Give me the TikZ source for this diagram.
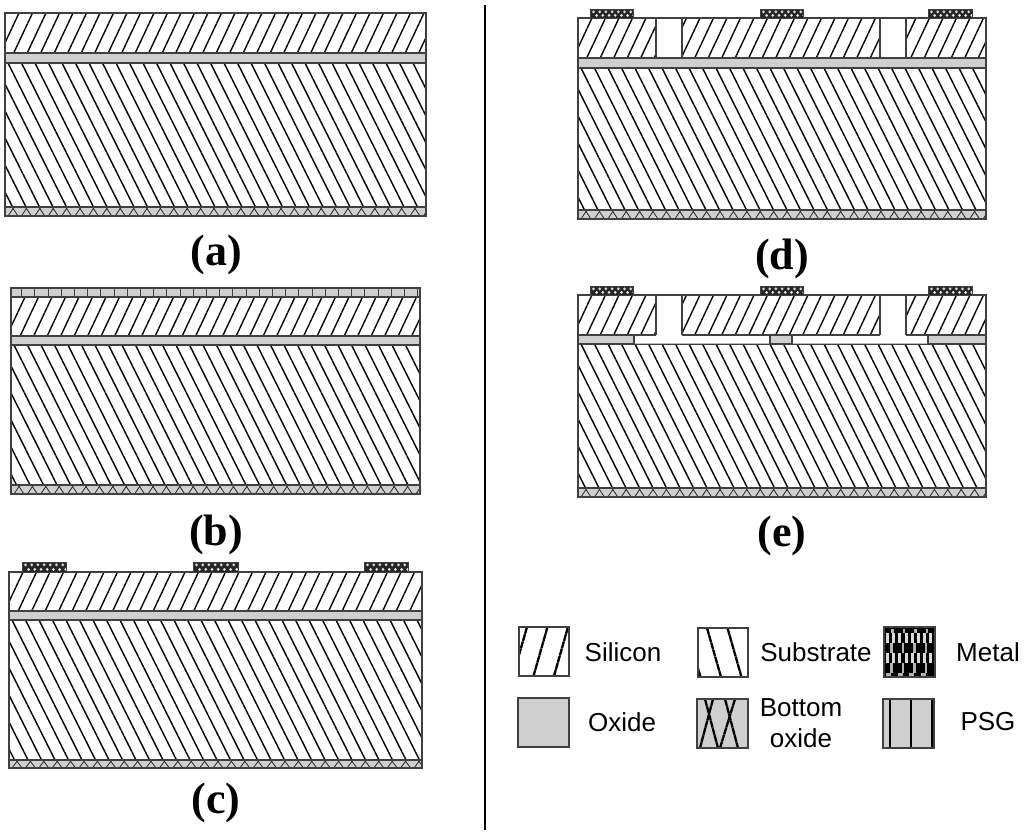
\documentclass[tikz,border=0pt]{standalone}
\usepackage{fontspec}
\setmainfont{Liberation Serif}
\setsansfont{Liberation Sans}
\usepackage{tikz}
\definecolor{oxgray}{HTML}{CFCFCF}
\definecolor{edgegray}{HTML}{404040}

% silicon hatch: x0,y0,x1,y1,phase
\newcommand{\hatchsi}[5]{%
  \begin{scope}
    \clip (#1,#2) rectangle (#3,#4);
    \foreach \k in {-2,...,34} \draw[hatchline] ({#1+#5+\k*13.5},#2) -- ++({-0.47*(#4-#2)},{#4-#2});
  \end{scope}}
% substrate hatch: x0,y0,x1,y1,phase
\newcommand{\hatchsub}[5]{%
  \begin{scope}
    \clip (#1,#2) rectangle (#3,#4);
    \foreach \k in {-8,...,34} \draw[hatchline] ({#1+#5+\k*13.5},#2) -- ++({0.5*(#4-#2)},{#4-#2});
  \end{scope}}
% whole stack: x0,x1,y silicon,y oxide,y substrate,y bottom,y end
\newcommand{\wafer}[7]{%
  \hatchsi{#1}{#3}{#2}{#4}{14}
  \hatchsub{#1}{#5}{#2}{#6}{3}
  \fill[oxgray] (#1,#4) rectangle (#2,#5);
  \fill[oxgray] (#1,#6) rectangle (#2,#7);
  \begin{scope}
    \clip (#1,#6) rectangle (#2,#7);
    \foreach \k in {-1,...,31} {
      \draw[xline] ({#1+7+\k*13.4},#6) -- ++(6,{#7-#6});
      \draw[xline] ({#1+9+\k*13.4},#6) -- ++(-6,{#7-#6});
    }
  \end{scope}
  \draw[edge] (#1,#3) rectangle (#2,#7);
  \draw[edge] (#1,#4) -- (#2,#4) (#1,#5) -- (#2,#5) (#1,#6) -- (#2,#6);}
% small metal pad: x0,x1,y0,y1
\newcommand{\padmetal}[4]{%
  \fill[black!85] (#1,#3) rectangle (#2,#4);
  \foreach \k in {0,...,6} {
    \fill[white!85!black] ({#1+3.5+\k*6.2},{#3+2.8}) circle (1.5);
    \fill[white!90!black] ({#1+6.6+\k*6.2},{#4-2.6}) circle (1.5);
  }
  \draw[edgegray,line width=0.8pt] (#1,#3) rectangle (#2,#4);}
% gap in the silicon: x0,x1,y0,y1
\newcommand{\gapbox}[4]{\fill[white] (#1,#3) rectangle (#2,#4); \draw[edge] (#1,#3) rectangle (#2,#4);}

\begin{document}
\begin{tikzpicture}[x=1pt,y=-1pt,
  hatchline/.style={black,line width=1.4pt,dash pattern=on 5.5pt off 0.4pt},
  xline/.style={black!85,line width=0.8pt},
  edge/.style={edgegray,line width=1.1pt},
  legline/.style={black,line width=2.3pt,dash pattern=on 7pt off 0.5pt},
  capt/.style={font=\fontsize{44}{46}\selectfont\bfseries},
  legtext/.style={font=\fontsize{26}{31}\selectfont\sffamily,align=center,inner sep=0pt}]
\useasboundingbox (0,0) rectangle (1024,836);
\fill[white] (0,0) rectangle (1024,836);

% (a)
\wafer{5}{426}{13}{53}{63}{207}{216}
\node[capt] (capa) at (216,255) {(a)};

% (b)
\fill[oxgray] (11,288) rectangle (420,297);
\foreach \k in {0,...,30} \draw[edge] ({21.7+\k*13.2},288) -- ++(0,9);
\draw[edge] (11,288) rectangle (420,297);
\wafer{11}{420}{297}{336}{345}{485}{494}
\node[capt] (capb) at (216,535) {(b)};

% (c)
\wafer{9}{422}{572}{611}{620}{760}{768}
\padmetal{22}{66}{562}{572}
\padmetal{193}{238}{562}{572}
\padmetal{364}{408}{562}{572}
\node[capt] (capc) at (216,803) {(c)};

% divider
\draw[black,line width=2pt] (485,5) -- (485,830);

% (d)
\wafer{578}{986}{18}{58}{68}{210}{219}
\gapbox{656}{682}{18}{58}
\gapbox{880}{906}{18}{58}
\padmetal{590}{633}{9}{18}
\padmetal{760}{803}{9}{18}
\padmetal{928}{972}{9}{18}
\node[capt] (capd) at (782,259) {(d)};

% (e)
\wafer{578}{986}{295}{335}{344}{488}{497}
\fill[white] (634,335) rectangle (770,343.5) (792,335) rectangle (928,343.5);
\draw[edge] (634,335) -- (634,344) (770,335) -- (770,344) (792,335) -- (792,344) (928,335) -- (928,344);
\fill[white] (656,295) rectangle (682,336) (880,295) rectangle (906,336);
\draw[edge] (578,295) -- (986,295);
\draw[edge] (656,295) -- (656,335) (682,295) -- (682,335) (880,295) -- (880,335) (906,295) -- (906,335);
\draw[edge] (578,335) -- (656,335) (682,335) -- (880,335) (906,335) -- (986,335);
\padmetal{590}{633}{286}{295}
\padmetal{760}{803}{286}{295}
\padmetal{928}{972}{286}{295}
\node[capt] (cape) at (782,536) {(e)};

% legend swatches
\begin{scope}
  \clip (519,627) rectangle (569,676);
  \foreach \k in {0,1,2,3} \draw[legline] ({527+\k*20.5},627) -- ++(-14,49);
\end{scope}
\draw[edge] (519,627) rectangle (569,676);
\begin{scope}
  \clip (698,628) rectangle (748,677);
  \foreach \k in {0,1,2} \draw[legline] ({686.5+\k*20.5},628) -- ++(14,49);
\end{scope}
\draw[edge] (698,628) rectangle (748,677);
\fill[black] (884,627) rectangle (935,677);
\foreach \r in {0,1} {
  \foreach \k in {0,...,7} \fill[white!85!black] ({886+\k*6.2},{633+\r*20}) rectangle ++(3,9.5);
  \foreach \k in {0,...,3} \fill[white!70!black] ({890+\k*11.5},{643+\r*20}) rectangle ++(2.5,10);
}
\foreach \k in {0,...,3} {
  \fill[white!70!black] ({891+\k*11.5},628.5) rectangle ++(2.5,4);
  \fill[white!70!black] ({886+\k*11.5},673) rectangle ++(5,2.5);
}
\draw[edge] (884,627) rectangle (935,677);
\fill[oxgray] (518,698) rectangle (569,747);
\draw[edge] (518,698) rectangle (569,747);
\fill[oxgray] (697,699) rectangle (748,748);
\draw[legline] (705,699) -- (718,748) (713,699) -- (700,748) (725,699) -- (738,748) (735,699) -- (720,748);
\draw[edge] (697,699) rectangle (748,748);
\fill[oxgray] (883,699) rectangle (934,748);
\draw[black,line width=2.5pt] (890,699) -- (890,748) (911,699) -- (911,748) (932.5,699) -- (932.5,748);
\draw[edge] (883,699) rectangle (934,748);

% legend text
\node[legtext] (txtsi) at (623,652) {Silicon};
\node[legtext] (txtsub) at (816,652) {Substrate};
\node[legtext] (txtmet) at (988,652) {Metal};
\node[legtext] (txtox) at (622,722) {Oxide};
\node[legtext] (txtbot) at (801,723) {Bottom\\oxide};
\node[legtext] (txtpsg) at (988,722) {PSG};
\end{tikzpicture}
\end{document}
